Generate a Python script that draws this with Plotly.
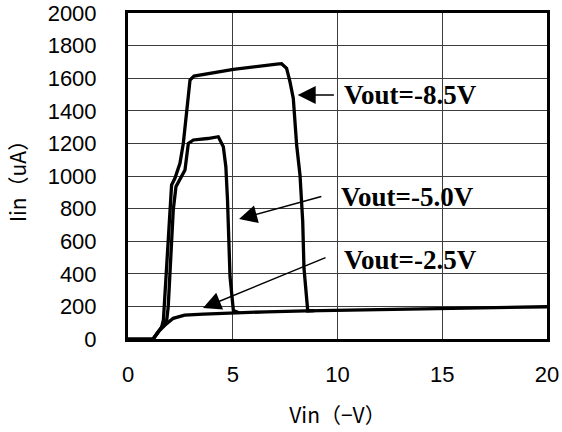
import plotly.graph_objects as go

# Input current Iin (uA) versus input voltage Vin (-V) for three output voltages
vin_25 = [0, 1.2, 1.45, 1.77, 2.16, 2.7, 3.6, 5.0, 6.6, 8.5, 10, 12, 15, 18, 20]
iin_25 = [0, 0, 45, 86, 127, 147, 152, 160, 167, 173, 176, 180, 187, 193, 198]

vin_50 = [1.2, 1.6, 1.85, 1.92, 2.04, 2.16, 2.29, 2.56, 2.72, 2.88, 3.12, 3.8, 4.31,
          4.55, 4.67, 4.75, 4.87, 5.03, 5.3]
iin_50 = [0, 70, 117, 198, 485, 791, 935, 996, 1037, 1200, 1221, 1230, 1241,
          1180, 1057, 853, 382, 174, 161]

vin_85 = [1.2, 1.6, 1.69, 1.85, 2.0, 2.08, 2.24, 2.48, 2.64, 2.8, 2.96, 3.15, 5.03,
          7.1, 7.33, 7.57, 7.73, 7.89, 8.05, 8.21, 8.34, 8.4, 8.5, 8.58, 8.9]
iin_85 = [0, 70, 117, 485, 791, 945, 986, 1078, 1200, 1405, 1589, 1613, 1654,
          1687, 1689, 1660, 1579, 1476, 1190, 1006, 720, 434, 270, 172, 174]

# Label text, label anchor (x, y), arrow tail (x, y), arrow head (x, y)
labels = ["Vout=-8.5V", "Vout=-5.0V", "Vout=-2.5V"]
label_xy = [(10.2, 1497), (10.05, 871), (10.2, 485)]
arrow_tail = [(9.9, 1497), (9.3, 877), (9.5, 503)]
arrow_head = [(8.1, 1497), (5.3, 736), (3.58, 190)]

fig = go.Figure()
for xs, ys in [(vin_25, iin_25), (vin_50, iin_50), (vin_85, iin_85)]:
    fig.add_trace(go.Scatter(x=xs, y=ys, mode="lines",
                             line=dict(color="black", width=3.3),
                             showlegend=False, hoverinfo="skip"))

annotations = []
for text, (lx, ly), (tx, ty), (hx, hy) in zip(labels, label_xy, arrow_tail, arrow_head):
    annotations.append(dict(x=hx, y=hy, ax=tx, ay=ty, xref="x", yref="y",
                            axref="x", ayref="y", text="", showarrow=True,
                            arrowhead=2, arrowsize=2.4, arrowwidth=1.5,
                            arrowcolor="black", standoff=0, startstandoff=0))
    annotations.append(dict(x=lx, y=ly, xref="x", yref="y", text=text,
                            showarrow=False, xanchor="left", yanchor="middle",
                            font=dict(family="Liberation Serif", size=27,
                                      color="black", weight="bold")))

axis_common = dict(showgrid=True, gridcolor="#3c3c3c", gridwidth=1,
                   showline=True, mirror=True, linecolor="black", linewidth=3,
                   zeroline=False, ticks="", automargin=False,
                   tickfont=dict(family="Liberation Sans", size=22, color="black"))

fig.update_layout(
    width=562, height=432,
    margin=dict(l=128, r=15, t=13, b=93),
    paper_bgcolor="white", plot_bgcolor="white",
    xaxis=dict(range=[0, 20], dtick=5, ticklabelstandoff=14,
               title=dict(text="Vin（−V）", standoff=22,
                          font=dict(family="Noto Sans CJK JP", size=21, color="black")),
               **axis_common),
    yaxis=dict(range=[0, 2000], dtick=200, ticklabelstandoff=24,
               title=dict(text="Iin（uA）", standoff=16,
                          font=dict(family="Noto Sans CJK JP", size=21, color="black")),
               **axis_common),
    annotations=annotations,
)

fig.write_html("out.html")
